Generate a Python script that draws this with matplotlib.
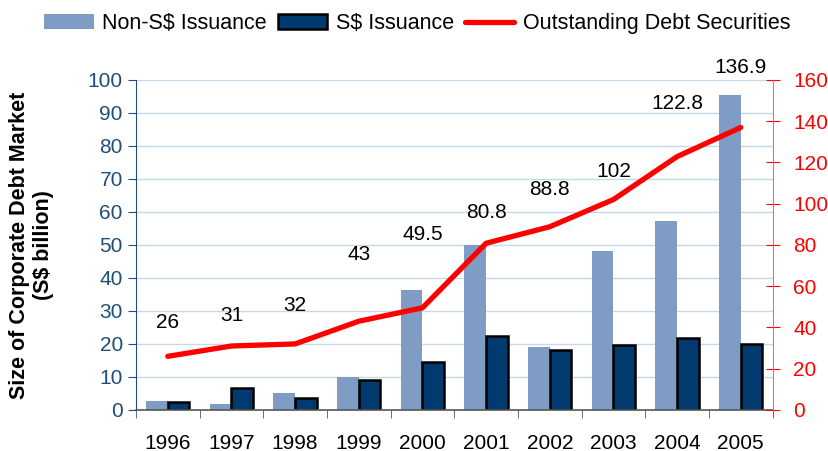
import matplotlib
matplotlib.use("Agg")
import matplotlib.pyplot as plt
import numpy as np

plt.rcParams['font.family'] = ['Liberation Sans', 'DejaVu Sans']

# ===== data =====
years = ["1996", "1997", "1998", "1999", "2000", "2001", "2002", "2003", "2004", "2005"]
non_sgd_issuance = [2.8, 1.8, 5.2, 10.0, 36.2, 50.0, 19.2, 48.3, 57.3, 95.5]
sgd_issuance = [2.4, 6.6, 3.5, 9.0, 14.5, 22.4, 18.3, 19.6, 21.8, 20.1]
outstanding = [26, 31, 32, 43, 49.5, 80.8, 88.8, 102, 122.8, 136.9]
outstanding_labels = ["26", "31", "32", "43", "49.5", "80.8", "88.8", "102", "122.8", "136.9"]

# label offsets above the line (points), chosen to sit clear of the bars
label_offsets = [24, 22, 28, 48, 53, 22, 27, 20, 38, 43]

LIGHT = "#7f9cc4"
DARK = "#003a6e"
AXBLUE = "#1f4e79"
RED = "#ff0000"

fig = plt.figure(figsize=(8.29, 4.51), dpi=100)
ax = fig.add_axes([0.164, 0.091, 0.768, 0.732])
ax2 = ax.twinx()

x = np.arange(len(years))
w = 0.34
ax.bar(x - w / 2, non_sgd_issuance, w, color=LIGHT, label="Non-S$ Issuance", zorder=2)
ax.bar(x + w / 2, sgd_issuance, w, color=DARK, edgecolor="black", linewidth=1.8,
       label="S$ Issuance", zorder=2)

ax.set_xlim(-0.5, len(years) - 0.5)
ax.set_ylim(0, 100)
ax.set_yticks(range(0, 101, 10))
ax.yaxis.grid(True, color="#c5d9e8", linewidth=1, zorder=0)
ax.set_axisbelow(True)

ax.set_xticks(x)
ax.set_xticklabels(years, fontsize=15)
ax.set_xticks(np.arange(-0.5, len(years), 1), minor=True)
ax.tick_params(axis="x", which="major", length=0, pad=17)
ax.tick_params(axis="x", which="minor", length=6, direction="out", color="#555555")
ax.tick_params(axis="y", labelsize=15, labelcolor=AXBLUE, color=AXBLUE, length=6, direction="out")

ax.spines["top"].set_visible(False)
ax.spines["right"].set_visible(False)
ax.spines["left"].set_color(AXBLUE)
ax.spines["bottom"].set_color("#555555")
ax.spines["bottom"].set_linewidth(1.2)

ax.set_ylabel("Size of Corporate Debt Market\n(S$ billion)", fontsize=15.5, fontweight="bold",
              labelpad=24)

# ===== outstanding line on right axis =====
ax2.plot(x, outstanding, color=RED, linewidth=3.8, label="Outstanding Debt Securities",
         solid_capstyle="round", zorder=3)
ax2.set_ylim(0, 160)
ax2.set_yticks(range(0, 161, 20))
ax2.tick_params(axis="y", labelsize=15, labelcolor=RED, color=RED, length=10, direction="inout",
                pad=10)
for s in ["top", "left", "bottom"]:
    ax2.spines[s].set_visible(False)
ax2.spines["right"].set_color("#ff6666")

for xi, v, lab, off in zip(x, outstanding, outstanding_labels, label_offsets):
    ax2.annotate(lab, (xi, v), xytext=(0, off), textcoords="offset points",
                 ha="center", va="center", fontsize=15, color="black")

h1, l1 = ax.get_legend_handles_labels()
h2, l2 = ax2.get_legend_handles_labels()
fig.legend(h1 + h2, l1 + l2, loc="upper left", bbox_to_anchor=(0.043, 0.99), ncol=3,
           frameon=False, fontsize=15.5, handlelength=2.3, handletextpad=0.4, columnspacing=0.5,
           borderaxespad=0)

fig.savefig("out.png", dpi=100)
